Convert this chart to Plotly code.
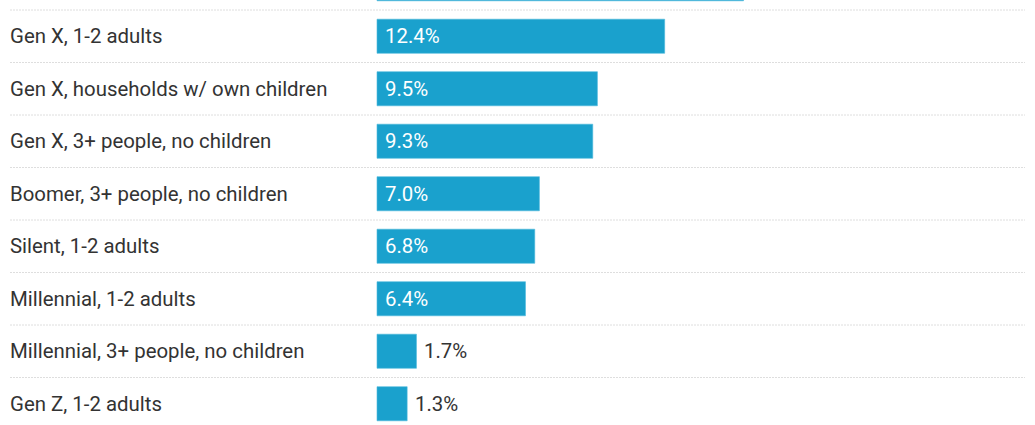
import plotly.graph_objects as go

categories = [
    "Boomer, 1-2 adults",
    "Gen X, 1-2 adults",
    "Gen X, households w/ own children",
    "Gen X, 3+ people, no children",
    "Boomer, 3+ people, no children",
    "Silent, 1-2 adults",
    "Millennial, 1-2 adults",
    "Millennial, 3+ people, no children",
    "Gen Z, 1-2 adults",
]
values = [15.8, 12.4, 9.5, 9.3, 7.0, 6.8, 6.4, 1.7, 1.3]
value_labels = ["15.8%", "12.4%", "9.5%", "9.3%", "7.0%", "6.8%", "6.4%", "1.7%", "1.3%"]

W, H = 1035, 425
BAR_COLOR = "#1aa1cd"
TEXT_COLOR = "#333333"
FONT = "Roboto, Arial, sans-serif"

px_per_unit = 23.2
x0_px = 377
x_range = [-x0_px / px_per_unit, (W - x0_px) / px_per_unit]

row_px = 52.5
top_offset = 16.25 / row_px
y_range = [top_offset + H / row_px, top_offset]

fig = go.Figure()
fig.add_trace(go.Bar(
    x=values,
    y=categories,
    orientation="h",
    width=0.65,
    marker=dict(color=BAR_COLOR, line=dict(color="#4db8dc", width=0.6)),
    hoverinfo="skip",
))

annotations = []
shapes = []
threshold = 4.0
for i, (cat, v, lab) in enumerate(zip(categories, values, value_labels)):
    annotations.append(dict(
        x=10 / W, xref="paper", y=cat, yref="y",
        text=cat, showarrow=False, xanchor="left", yanchor="middle",
        xshift=-2,
        font=dict(family=FONT, size=20.4, color=TEXT_COLOR),
    ))
    if v >= threshold:
        annotations.append(dict(
            x=0, xref="x", y=cat, yref="y", text=lab, showarrow=False,
            xanchor="left", yanchor="middle", xshift=6,
            font=dict(family=FONT, size=20.4, color="white"),
        ))
    else:
        annotations.append(dict(
            x=v, xref="x", y=cat, yref="y", text=lab, showarrow=False,
            xanchor="left", yanchor="middle", xshift=6,
            font=dict(family=FONT, size=20.4, color=TEXT_COLOR),
        ))
    if i > 0:
        shapes.append(dict(
            type="line", xref="paper", yref="y",
            x0=10 / W, x1=1025 / W, y0=i - 0.5, y1=i - 0.5,
            line=dict(color="#dedede", width=1, dash="2px,1px"),
        ))

fig.update_layout(
    width=W, height=H,
    margin=dict(l=0, r=0, t=0, b=0),
    paper_bgcolor="white", plot_bgcolor="white",
    showlegend=False,
    xaxis=dict(range=x_range, visible=False, fixedrange=True),
    yaxis=dict(range=y_range, visible=False, categoryorder="array",
               categoryarray=categories, fixedrange=True),
    annotations=annotations,
    shapes=shapes,
    bargap=0.35,
)

fig.write_html(
    "out.html",
    config={"displayModeBar": False},
    post_script="document.body.style.margin='0';document.body.style.overflow='hidden';",
)
